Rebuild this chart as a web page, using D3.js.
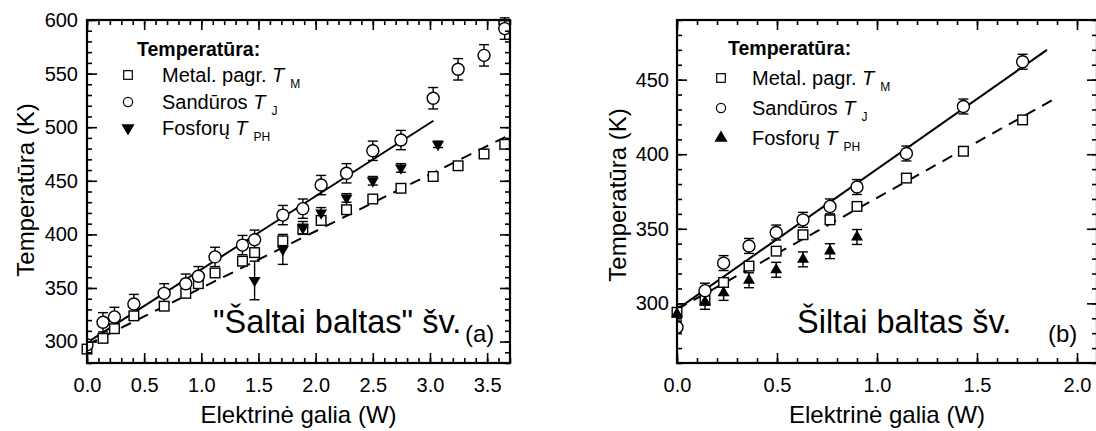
<!DOCTYPE html>
<html>
<head>
<meta charset="utf-8">
<script src="https://cdn.jsdelivr.net/npm/d3@7"></script>
<style>
  html, body { margin: 0; padding: 0; background: #fff; }
  svg { display: block; font-family: "Liberation Sans", Arial, sans-serif; }
</style>
</head>
<body>
<svg id="chart" width="1096" height="431"></svg>
<script>
// ---------------- Data ----------------
// Panel (a): "Šaltai baltas" šv.
const aPower   = [0, 0.14, 0.24, 0.41, 0.675, 0.864, 0.974, 1.12, 1.36, 1.466, 1.713, 1.888, 2.048, 2.27, 2.5, 2.746, 3.028, 3.246, 3.473, 3.654];
const aTM      = [293, 303, 312, 324, 333, 345, 354, 364, 375, 383, 394, 405, 413, 423, 433, 443, 454, 464, 475, 484];
const aTMerr   = [2, 3, 3, 3, 3, 3, 3, 3, 3, 3, 3, 3, 3, 3, 3, 3, 3, 3, 3, 3];
const aTJ      = [297, 318, 323, 335, 345, 354, 361, 379, 390, 395, 418, 424, 446, 457, 478, 488, 527, 554, 567, 592];
const aTJerr   = [4, 9, 9, 9, 9, 9, 9, 9, 9, 9, 9, 9, 9, 9, 9, 9, 10, 10, 10, 10];
const aPHPower = [1.466, 1.713, 1.888, 2.048, 2.27, 2.5, 2.746, 3.07];
const aTPH     = [357, 386, 406, 420, 434, 450, 462, 484];
const aTPHerr  = [18, 14, 6, 5, 4, 4, 4, 3];
const aFitJ    = [[0, 299], [3.03, 506]];
const aFitM    = [[0, 297], [3.7, 493]];
const aXTicks  = [0, 0.5, 1.0, 1.5, 2.0, 2.5, 3.0, 3.5];
const aYTicks  = [300, 350, 400, 450, 500, 550, 600];

// Panel (b): Šiltai baltas šv.
const bPower   = [0, 0.14, 0.233, 0.36, 0.496, 0.63, 0.765, 0.9, 1.147, 1.432, 1.728];
const bTM      = [294, 302, 314, 325, 335, 346, 356, 365, 384, 402, 423];
const bTMerr   = [2, 2, 2, 2, 2, 2, 2, 2, 2, 2, 2];
const bTJ      = [284, 308.5, 327, 338.5, 347.5, 356, 365, 378, 400.5, 432, 462];
const bTJerr   = [4, 5, 5, 5, 5, 5, 5, 5, 5, 5, 5];
const bPHPower = [0, 0.14, 0.233, 0.36, 0.496, 0.63, 0.765, 0.9];
const bTPH     = [293, 301, 307, 315.5, 322.5, 329.5, 335, 344.5];
const bTPHerr  = [5, 5, 5, 5, 5, 5, 5, 5];
const bFitJ    = [[0, 296], [1.85, 470]];
const bFitM    = [[0, 296], [1.9, 438]];
const bXTicks  = [0, 0.5, 1.0, 1.5, 2.0];
const bYTicks  = [300, 350, 400, 450];

// ---------------- Drawing ----------------
const svg = d3.select("#chart");

function drawPanel(p) {
  const g = svg.append("g");
  const x = d3.scaleLinear().domain(p.xDomain).range([p.left, p.right]);
  const y = d3.scaleLinear().domain(p.yDomain).range([p.bottom, p.top]);

  const plot = g.append("g");
  const clipId = "clip" + p.id;
  svg.append("clipPath").attr("id", clipId)
    .append("rect").attr("x", p.left).attr("y", p.top - 8)
    .attr("width", p.right - p.left).attr("height", p.bottom - p.top + 8);

  // Fit lines
  const line = d3.line().x(d => x(d[0])).y(d => y(d[1]));
  plot.append("path").datum(p.fitJ).attr("d", line)
    .attr("fill", "none").attr("stroke", "#000").attr("stroke-width", 2);
  plot.append("path").datum(p.fitM).attr("d", line)
    .attr("fill", "none").attr("stroke", "#000").attr("stroke-width", 2)
    .attr("stroke-dasharray", "11,8");

  function errorBars(xs, ys, es) {
    const eg = plot.append("g").attr("clip-path", `url(#${clipId})`);
    xs.forEach((xv, i) => {
      const cx = x(xv), y1 = y(ys[i] - es[i]), y2 = y(ys[i] + es[i]);
      eg.append("line").attr("x1", cx).attr("x2", cx).attr("y1", y1).attr("y2", y2)
        .attr("stroke", "#000").attr("stroke-width", 1.4);
      [y1, y2].forEach(yy => eg.append("line").attr("x1", cx - 5).attr("x2", cx + 5)
        .attr("y1", yy).attr("y2", yy).attr("stroke", "#000").attr("stroke-width", 1.4));
    });
  }

  errorBars(p.power, p.TM, p.TMerr);
  errorBars(p.phPower, p.TPH, p.TPHerr);
  errorBars(p.power, p.TJ, p.TJerr);

  // Squares (T_M)
  plot.append("g").selectAll("rect").data(p.power).join("rect")
    .attr("x", (d) => x(d) - 4.8).attr("y", (d, i) => y(p.TM[i]) - 4.8)
    .attr("width", 9.6).attr("height", 9.6)
    .attr("fill", "#fff").attr("stroke", "#000").attr("stroke-width", 1.4);

  // Triangles (T_PH)
  const triSym = d3.symbol().type(d3.symbolTriangle).size(62);
  plot.append("g").selectAll("path").data(p.phPower).join("path")
    .attr("d", triSym)
    .attr("transform", (d, i) => `translate(${x(d)},${y(p.TPH[i])}) rotate(${p.triDown ? 180 : 0})`)
    .attr("fill", "#000");

  // Circles (T_J)
  plot.append("g").selectAll("circle").data(p.power).join("circle")
    .attr("cx", d => x(d)).attr("cy", (d, i) => y(p.TJ[i])).attr("r", 6)
    .attr("fill", "#fff").attr("stroke", "#000").attr("stroke-width", 1.4)
    .attr("clip-path", `url(#${clipId})`);

  // Axes (ticks inward)
  const xMinor = d3.range(p.xDomain[0], p.xDomain[1] + 1e-9, 0.1).map(v => +v.toFixed(2));
  const yMinor = d3.range(Math.ceil(p.yDomain[0] / 10) * 10, p.yDomain[1] + 1e-9, 10);

  const axes = g.append("g");
  function styleAxis(sel) {
    sel.select(".domain").remove();
    sel.selectAll(".tick line").attr("stroke", "#000").attr("stroke-width", 1.6);
    sel.selectAll("text").attr("fill", "#000").attr("font-size", 20)
      .attr("font-family", "'Liberation Sans', Arial, sans-serif");
  }
  axes.append("g").attr("transform", `translate(0,${p.bottom})`)
    .call(d3.axisBottom(x).tickValues(xMinor).tickSizeInner(-5).tickSizeOuter(0).tickFormat(""))
    .call(styleAxis);
  axes.append("g").attr("transform", `translate(0,${p.bottom})`)
    .call(d3.axisBottom(x).tickValues(p.xTicks).tickSizeInner(-10).tickSizeOuter(0)
      .tickPadding(15).tickFormat(d3.format(".1f")))
    .call(styleAxis);
  axes.append("g").attr("transform", `translate(0,${p.top})`)
    .call(d3.axisTop(x).tickValues(xMinor).tickSizeInner(-5).tickSizeOuter(0).tickFormat(""))
    .call(styleAxis);
  axes.append("g").attr("transform", `translate(0,${p.top})`)
    .call(d3.axisTop(x).tickValues(p.xTicks).tickSizeInner(-10).tickSizeOuter(0).tickFormat(""))
    .call(styleAxis);
  axes.append("g").attr("transform", `translate(${p.left},0)`)
    .call(d3.axisLeft(y).tickValues(yMinor).tickSizeInner(-5).tickSizeOuter(0).tickFormat(""))
    .call(styleAxis);
  axes.append("g").attr("transform", `translate(${p.left},0)`)
    .call(d3.axisLeft(y).tickValues(p.yTicks).tickSizeInner(-10).tickSizeOuter(0)
      .tickPadding(p.yPad).tickFormat(d3.format("d")))
    .call(styleAxis);
  axes.append("g").attr("transform", `translate(${p.right},0)`)
    .call(d3.axisRight(y).tickValues(yMinor).tickSizeInner(-5).tickSizeOuter(0).tickFormat(""))
    .call(styleAxis);
  axes.append("g").attr("transform", `translate(${p.right},0)`)
    .call(d3.axisRight(y).tickValues(p.yTicks).tickSizeInner(-10).tickSizeOuter(0).tickFormat(""))
    .call(styleAxis);
  axes.append("rect").attr("x", p.left).attr("y", p.top)
    .attr("width", p.right - p.left).attr("height", p.bottom - p.top)
    .attr("fill", "none").attr("stroke", "#000").attr("stroke-width", 2.2);

  // Axis titles
  g.append("text").attr("x", (p.left + p.right) / 2).attr("y", 423).attr("text-anchor", "middle")
    .attr("font-size", 24).text("Elektrinė galia (W)");
  g.append("text").attr("transform", `translate(${p.yTitleX},${p.yTitleY}) rotate(-90)`)
    .attr("text-anchor", "middle").attr("font-size", 24).text("Temperatūra (K)");

  // Annotation
  g.append("text").attr("x", p.noteX).attr("y", 333).attr("font-size", 32.5).text(p.note);
  g.append("text").attr("x", p.tagX).attr("y", 342).attr("font-size", 24).text(p.tag);

  // Legend
  const lg = g.append("g");
  lg.append("text").attr("x", p.legHeadX).attr("y", p.legHeadY).attr("font-size", 19.5)
    .attr("font-weight", "bold").text("Temperatūra:");
  const labels = [["Metal. pagr. ", "M"], ["Sandūros ", "J"], ["Fosforų ", "PH"]];
  labels.forEach((lab, i) => {
    const t = lg.append("text").attr("x", p.legTextX).attr("y", p.legBase[i]).attr("font-size", 20);
    t.append("tspan").text(lab[0]);
    t.append("tspan").attr("font-style", "italic").text("T");
    t.append("tspan").attr("font-size", 12).attr("dx", 6).attr("dy", 6).text(lab[1]);
  });
  lg.append("rect").attr("x", p.legX - 4.3).attr("y", p.legSym[0] - 4.3).attr("width", 8.6).attr("height", 8.6)
    .attr("fill", "#fff").attr("stroke", "#000").attr("stroke-width", 1.2);
  lg.append("circle").attr("cx", p.legX).attr("cy", p.legSym[1]).attr("r", 4.6)
    .attr("fill", "#fff").attr("stroke", "#000").attr("stroke-width", 1.2);
  lg.append("path").attr("d", d3.symbol().type(d3.symbolTriangle).size(75))
    .attr("transform", `translate(${p.legX},${p.legSym[2]}) rotate(${p.triDown ? 180 : 0})`)
    .attr("fill", "#000");
}

drawPanel({
  id: "a", left: 87, right: 510, top: 20, bottom: 363,
  xDomain: [0, 3.7], yDomain: [280, 600],
  power: aPower, TM: aTM, TMerr: aTMerr, TJ: aTJ, TJerr: aTJerr,
  phPower: aPHPower, TPH: aTPH, TPHerr: aTPHerr,
  fitJ: aFitJ, fitM: aFitM, xTicks: aXTicks, yTicks: aYTicks, triDown: true,
  yPad: 9, yTitleX: 34, yTitleY: 190,
  note: "\"Šaltai baltas\" šv.", noteX: 213, tag: "(a)", tagX: 465,
  legX: 128, legHeadX: 137, legHeadY: 56, legTextX: 162,
  legBase: [82, 109, 135], legSym: [75, 102, 128]
});

drawPanel({
  id: "b", left: 677, right: 1097, top: 20, bottom: 363,
  xDomain: [0, 2.1], yDomain: [260, 490],
  power: bPower, TM: bTM, TMerr: bTMerr, TJ: bTJ, TJerr: bTJerr,
  phPower: bPHPower, TPH: bTPH, TPHerr: bTPHerr,
  fitJ: bFitJ, fitM: bFitM, xTicks: bXTicks, yTicks: bYTicks, triDown: false,
  yPad: 8, yTitleX: 626, yTitleY: 195,
  note: "Šiltai baltas šv.", noteX: 797, tag: "(b)", tagX: 1048,
  legX: 721, legHeadX: 728, legHeadY: 55, legTextX: 752,
  legBase: [85, 115, 145], legSym: [78, 108, 138]
});
</script>
</body>
</html>
